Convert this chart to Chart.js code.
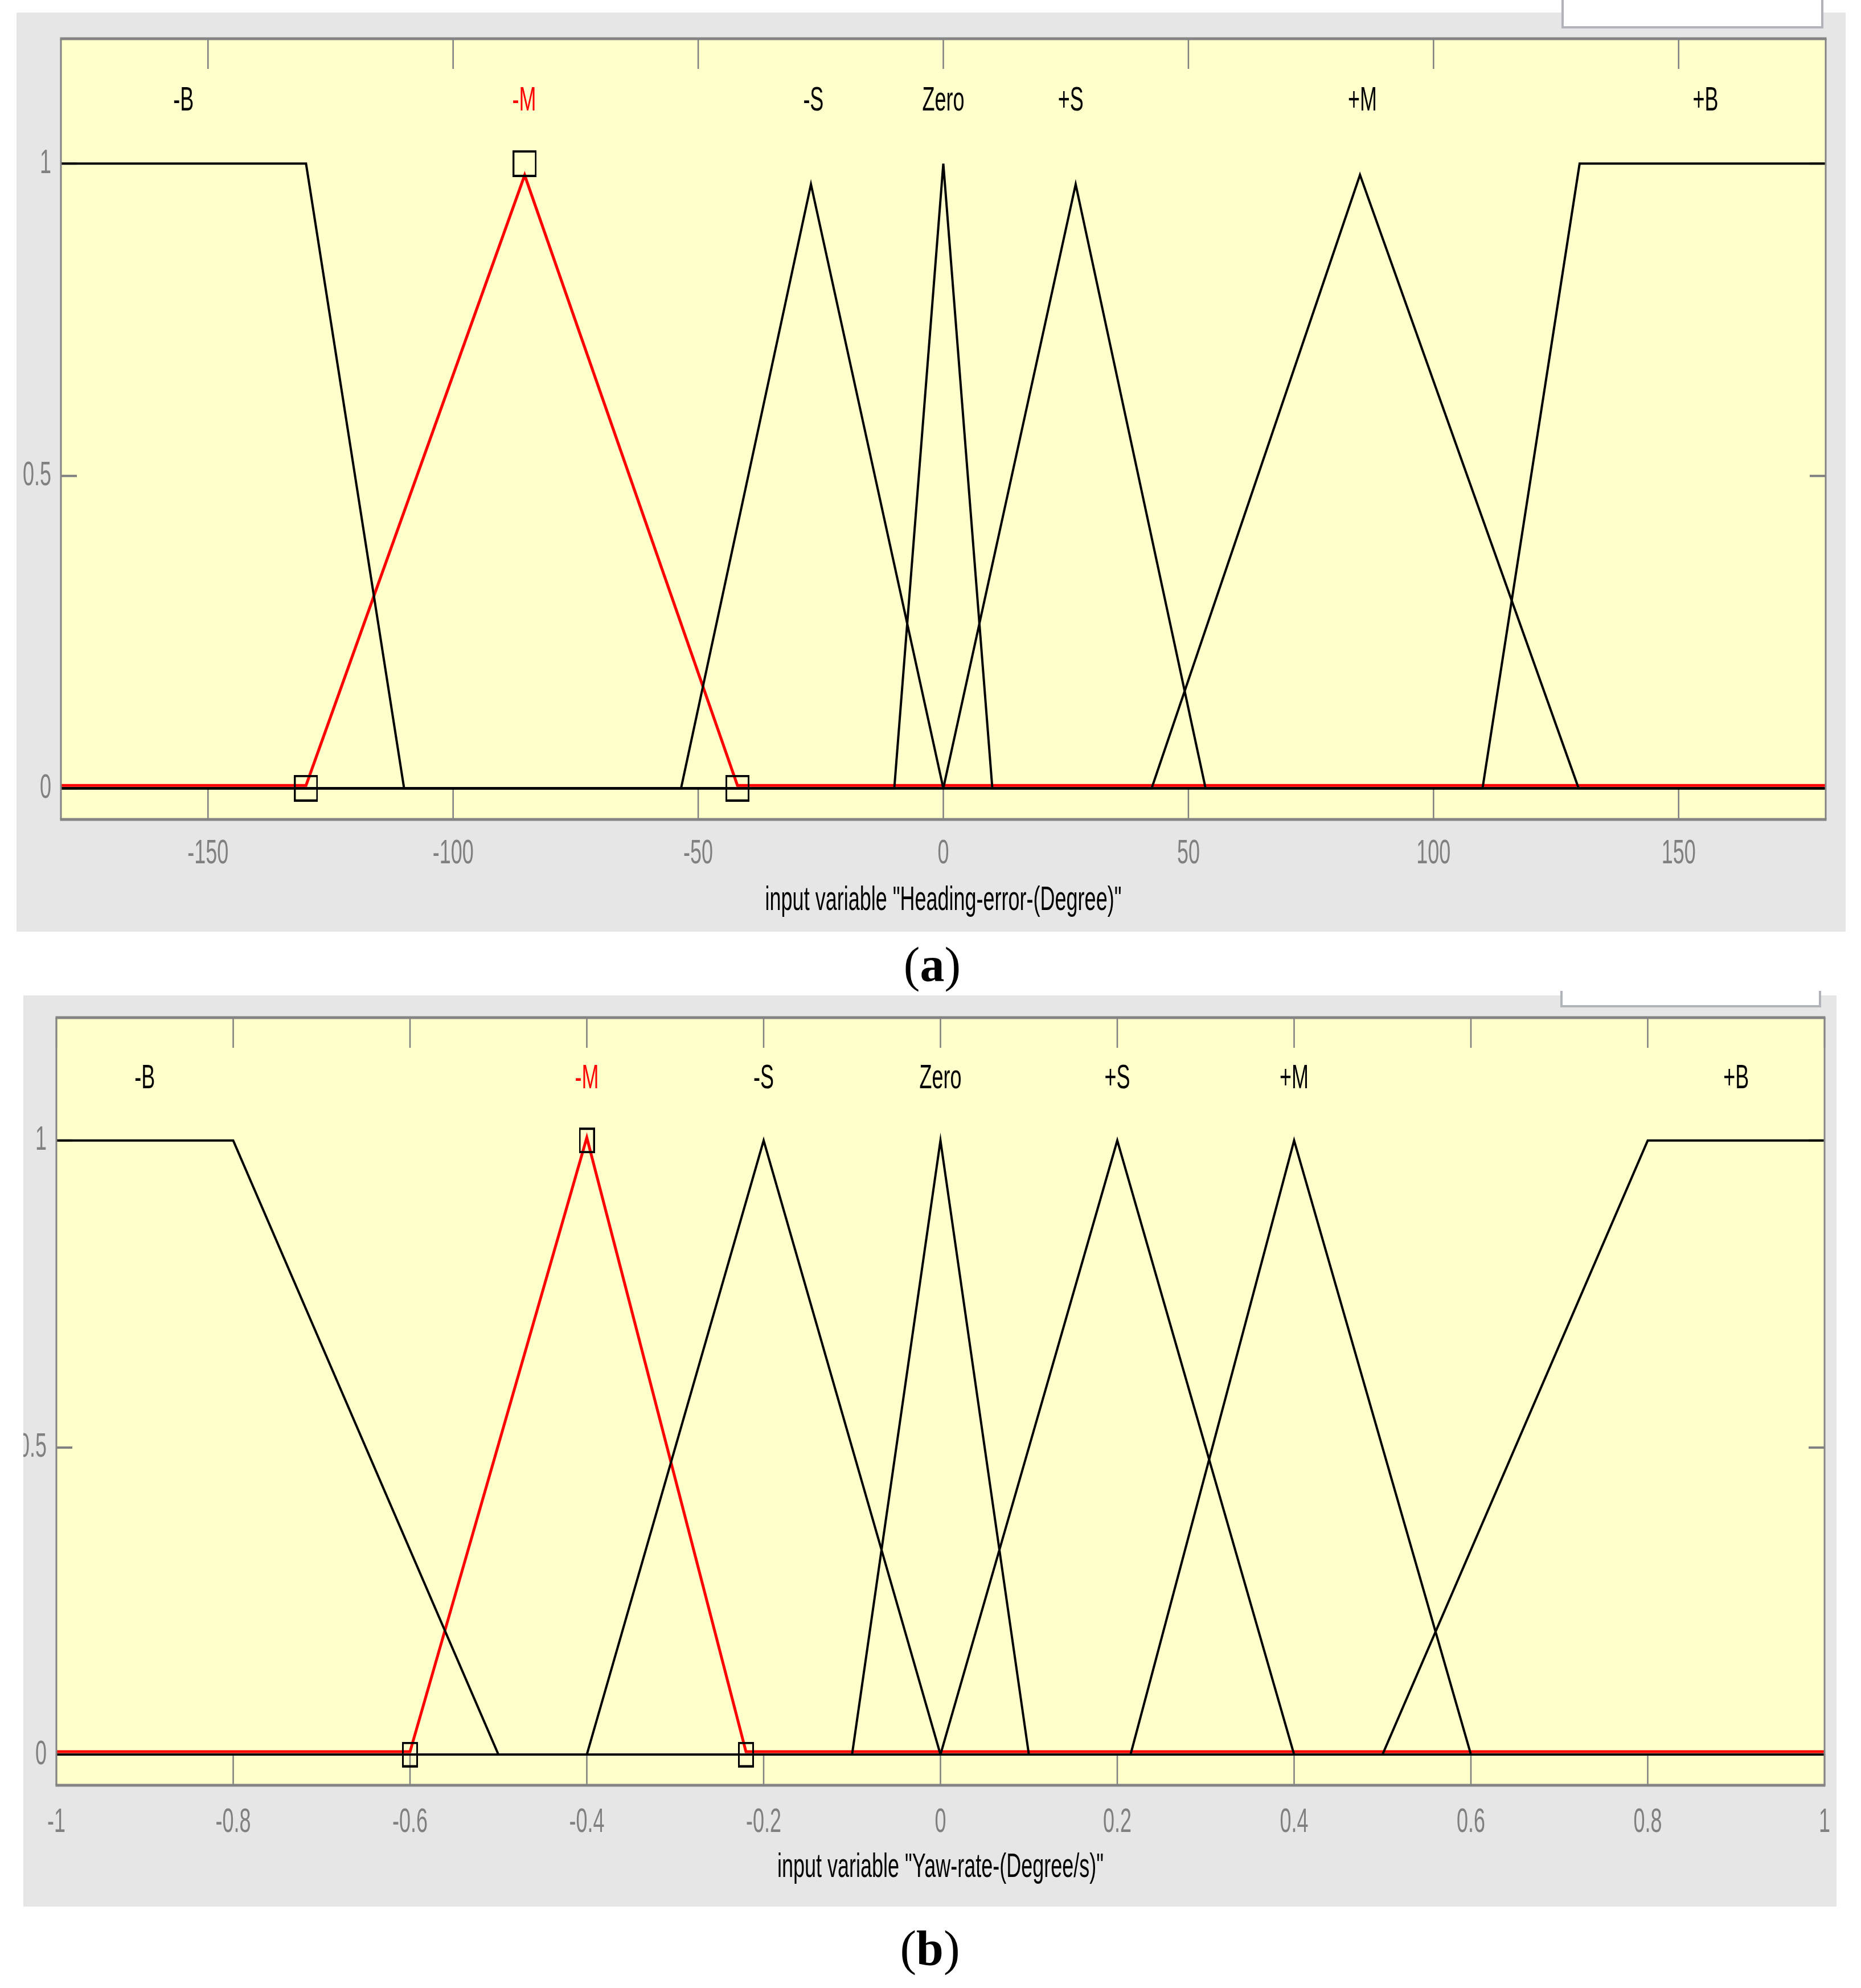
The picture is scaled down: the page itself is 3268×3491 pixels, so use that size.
<!DOCTYPE html>
<html>
<head>
<meta charset="utf-8">
<title>Membership functions</title>
<script src="https://cdn.jsdelivr.net/npm/chart.js@4.4.1/dist/chart.umd.min.js"></script>
<style>
  html, body { margin: 0; padding: 0; background: #fff; }
  body { position: relative; width: 3268px; height: 3491px; overflow: hidden; }
  canvas { position: absolute; background: #e6e6e6; }
  #chartA { left: 29px; top: 22px; }
  #chartB { left: 41px; top: 1748px; }
  .tab { position: absolute; background: #fff; border: 4px solid #b1b3ba; border-top: none; box-sizing: border-box; }
  .caption { position: absolute; width: 300px; text-align: center; font-family: "Liberation Serif", serif; font-size: 86px; line-height: 86px; color: #000; }
</style>
</head>
<body>
<canvas id="chartA" width="3212" height="1614"></canvas>
<canvas id="chartB" width="3184" height="1600"></canvas>
<div class="tab" style="left:2742px; top:0px; width:460px; height:50px;"></div>
<div class="tab" style="left:2740px; top:1740px; width:458px; height:29px;"></div>
<div class="caption" style="left:1487px; top:1651px;">(<b>a</b>)</div>
<div class="caption" style="left:1483px; top:3378px;">(<b>b</b>)</div>
<script>
const mfNames = ["-B", "-M", "-S", "Zero", "+S", "+M", "+B"];
const selectedMf = 1; // "-M" is highlighted in both plots
const memberTicks = [0, 0.5, 1];

// (a) input "Heading-error-(Degree)"
const headingLabelX = [-155, -85.5, -26.5, 0, 26, 85.5, 155.5];
const headingTicks = [-150, -100, -50, 0, 50, 100, 150];
// corner points of every membership function, left to right
const headingCornersX = [
  [-180, -130, -110, 180],
  [-180, -130, -85.4, -42, 180],
  [-180, -53.5, -27, 0, 180],
  [-180, -10, 0, 10, 180],
  [-180, 0, 27, 53.5, 180],
  [-180, 42.5, 85, 129.6, 180],
  [-180, 110, 129.8, 180],
];
const headingCornersY = [
  [1, 1, 0, 0],
  [0, 0, 0.977, 0, 0],
  [0, 0, 0.967, 0, 0],
  [0, 0, 1, 0, 0],
  [0, 0, 0.967, 0, 0],
  [0, 0, 0.982, 0, 0],
  [0, 0, 1, 1],
];
const headingMarkX = [-130, -85.4, -42];
const headingMarkY = [0, 1, 0];

// (b) input "Yaw-rate-(Degree/s)"
const yawLabelX = [-0.9, -0.4, -0.2, 0, 0.2, 0.4, 0.9];
const yawTicks = [-1, -0.8, -0.6, -0.4, -0.2, 0, 0.2, 0.4, 0.6, 0.8, 1];
const yawCornersX = [
  [-1, -0.8, -0.5, 1],
  [-1, -0.6, -0.4, -0.22, 1],
  [-1, -0.4, -0.2, 0, 1],
  [-1, -0.1, 0, 0.1, 1],
  [-1, 0, 0.2, 0.4, 1],
  [-1, 0.215, 0.4, 0.6, 1],
  [-1, 0.5, 0.8, 1],
];
const yawCornersY = [
  [1, 1, 0, 0],
  [0, 0, 1, 0, 0],
  [0, 0, 1, 0, 0],
  [0, 0, 1, 0, 0],
  [0, 0, 1, 0, 0],
  [0, 0, 1, 0, 0],
  [0, 0, 1, 1],
];
const yawMarkX = [-0.6, -0.4, -0.22];
const yawMarkY = [0, 1, 0];

const FONT = "Liberation Sans";
Chart.defaults.font.family = FONT;

// the screenshot text is very narrow, so squeeze every label horizontally
function squeezeText(canvas, sx) {
  const ctx = canvas.getContext("2d");
  const fill = ctx.fillText;
  ctx.fillText = function (text, x, y, maxWidth) {
    this.save();
    this.translate(x, y);
    this.scale(sx, 1);
    if (maxWidth === undefined) fill.call(this, text, 0, 0);
    else fill.call(this, text, 0, 0, maxWidth / sx);
    this.restore();
  };
}

// hollow square marker used on the selected function
const makeBox = (w, h) => {
  const c = document.createElement("canvas");
  c.width = w;
  c.height = h;
  const g = c.getContext("2d");
  g.fillStyle = "#000";
  g.fillRect(0, 0, w, 4);
  g.fillRect(0, h - 4, w, 4);
  g.fillRect(0, 0, 3, h);
  g.fillRect(w - 3, 0, 3, h);
  return c;
};

const framePlugin = (cfg) => ({
  id: "frame",
  beforeDatasetsDraw(chart) {
    const { ctx, chartArea: a, scales: { x, y } } = chart;
    ctx.save();
    ctx.fillStyle = "#ffffcc";
    ctx.fillRect(a.left, a.top, a.width, a.height);
    ctx.strokeStyle = "#808080";
    ctx.lineWidth = 2.5;
    ctx.beginPath();
    x.ticks.forEach((t) => {
      const px = x.getPixelForValue(t.value);
      ctx.moveTo(px, a.top);
      ctx.lineTo(px, a.top + 53);
      ctx.moveTo(px, a.bottom);
      ctx.lineTo(px, a.bottom - 55);
    });
    ctx.stroke();
    ctx.lineWidth = 4;
    ctx.beginPath();
    y.ticks.forEach((t) => {
      const py = y.getPixelForValue(t.value);
      ctx.moveTo(a.left, py);
      ctx.lineTo(a.left + 28, py);
      ctx.moveTo(a.right, py);
      ctx.lineTo(a.right - 28, py);
    });
    ctx.stroke();
    ctx.restore();
  },
  afterDatasetsDraw(chart) {
    const { ctx, chartArea: a, scales: { x, y } } = chart;
    ctx.save();
    ctx.fillStyle = "#848484";
    ctx.fillRect(a.left - 1.5, a.top - 2.5, a.width + 3, 5);
    ctx.fillRect(a.left - 1.5, a.bottom - 2.5, a.width + 3, 5);
    ctx.fillRect(a.left - 1.5, a.top, 3, a.height);
    ctx.fillRect(a.right - 1.5, a.top, 3, a.height);

    ctx.font = "60px '" + FONT + "'";
    ctx.textAlign = "center";
    ctx.textBaseline = "middle";
    mfNames.forEach((name, i) => {
      ctx.fillStyle = i === selectedMf ? "#ff0000" : "#000000";
      ctx.fillText(name, x.getPixelForValue(cfg.labelX[i]), y.getPixelForValue(1.1));
    });
    ctx.restore();
  },
  // the red curve sits a few pixels above the black ones in the screenshot
  beforeDatasetDraw(chart, args) {
    const lift = chart.data.datasets[args.index].lift;
    if (lift) {
      chart.ctx.save();
      chart.ctx.translate(0, -lift);
    }
  },
  afterDatasetDraw(chart, args) {
    if (chart.data.datasets[args.index].lift) chart.ctx.restore();
  },
});

function drawPanel(id, cfg) {
  const canvas = document.getElementById(id);
  squeezeText(canvas, 0.6);

  const datasets = cfg.cornersX.map((xs, i) => ({
    data: xs.map((v, k) => ({ x: v, y: cfg.cornersY[i][k] })),
    borderColor: i === selectedMf ? "#ff0000" : "#000000",
    borderWidth: i === selectedMf ? 5 : 4,
    lift: i === selectedMf ? 5 : 0,
    pointRadius: 0,
    tension: 0,
    fill: false,
    order: i === selectedMf ? 2 : 1,
  }));
  datasets.push({
    data: cfg.markX.map((v, k) => ({ x: v, y: cfg.markY[k] })),
    showLine: false,
    pointStyle: cfg.box,
    pointRadius: 20,
    order: 0,
  });

  return new Chart(canvas, {
    type: "line",
    data: { datasets },
    plugins: [framePlugin(cfg)],
    options: {
      responsive: false,
      animation: false,
      devicePixelRatio: 1,
      events: [],
      layout: { padding: { left: 0, right: cfg.padRight, top: cfg.padTop, bottom: 0 } },
      plugins: { legend: { display: false }, tooltip: { enabled: false } },
      scales: {
        x: {
          type: "linear",
          min: cfg.min,
          max: cfg.max,
          grid: { display: false, drawTicks: false },
          border: { display: false },
          afterBuildTicks: (s) => {
            s.ticks = cfg.ticks.map((v) => ({ value: v }));
          },
          afterFit: (s) => {
            s.height = cfg.xHeight;
            s.paddingLeft = 0;
            s.paddingRight = 0;
          },
          ticks: {
            autoSkip: false,
            maxRotation: 0,
            minRotation: 0,
            padding: cfg.tickPad,
            color: "#808080",
            font: { size: 60 },
            callback: (v) => String(v),
          },
          title: {
            display: true,
            text: cfg.title,
            color: "#000000",
            font: { size: 60 },
            padding: { top: 0, bottom: cfg.titlePad },
          },
        },
        y: {
          min: -0.05,
          max: 1.2,
          grid: { display: false, drawTicks: false },
          border: { display: false },
          afterBuildTicks: (s) => {
            s.ticks = memberTicks.map((v) => ({ value: v }));
          },
          afterFit: (s) => {
            s.width = cfg.yWidth;
            s.paddingTop = 0;
            s.paddingBottom = 0;
          },
          ticks: {
            padding: 17,
            color: "#808080",
            font: { size: 60 },
            callback: (v) => String(v),
          },
        },
      },
    },
  });
}

drawPanel("chartA", {
  min: -180,
  max: 180,
  ticks: headingTicks,
  labelX: headingLabelX,
  cornersX: headingCornersX,
  cornersY: headingCornersY,
  markX: headingMarkX,
  markY: headingMarkY,
  box: makeBox(42, 47),
  title: 'input variable "Heading-error-(Degree)"',
  padTop: 46,
  padRight: 35,
  yWidth: 78,
  xHeight: 197,
  tickPad: 24,
  titlePad: 19,
});

drawPanel("chartB", {
  min: -1,
  max: 1,
  ticks: yawTicks,
  labelX: yawLabelX,
  cornersX: yawCornersX,
  cornersY: yawCornersY,
  markX: yawMarkX,
  markY: yawMarkY,
  box: makeBox(28, 45),
  title: 'input variable "Yaw-rate-(Degree/s)"',
  padTop: 39,
  padRight: 20,
  yWidth: 58,
  xHeight: 213,
  tickPad: 29,
  titlePad: 33,
});
</script>
</body>
</html>
